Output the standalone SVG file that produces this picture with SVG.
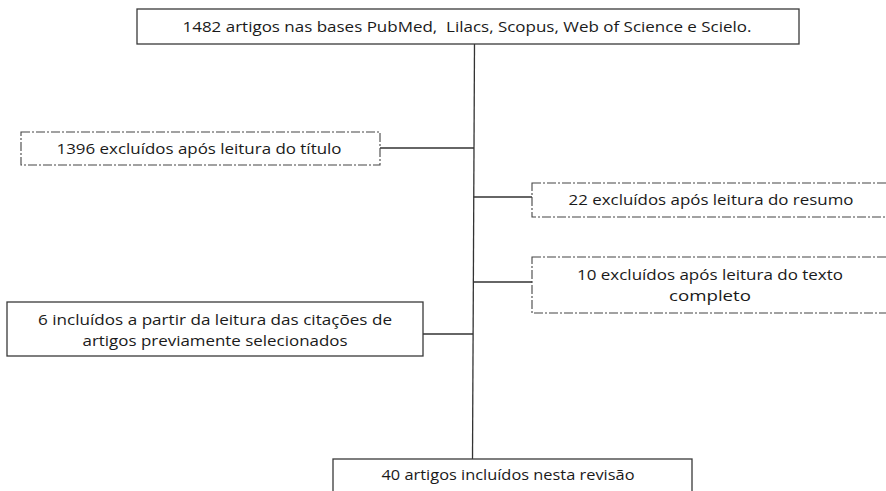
<svg xmlns="http://www.w3.org/2000/svg" width="886" height="491" viewBox="0 0 886 491">
<style>
.solid{fill:#fff;stroke:#3a3a3a;stroke-width:1.3}
.dash{fill:#fff;stroke:#444;stroke-width:1.1;stroke-dasharray:9 2 2 2}
.t{font-family:"Open Sans","Liberation Sans",sans-serif;font-size:15px;fill:#1a1a1a;text-anchor:middle}
.c{stroke:#333;stroke-width:1.3;fill:none}
</style>
<rect width="886" height="491" fill="#fff"/>
<g id="connectors">
<path class="c" d="M474.5 44 L472.5 460"/>
<path class="c" d="M380 148 H474"/>
<path class="c" d="M473.5 197 H532"/>
<path class="c" d="M473 282 H532"/>
<path class="c" d="M423 334 H473"/>
</g>
<g id="n_top">
<rect class="solid" x="137" y="9" width="662" height="35"/>
<text class="t" x="467" y="32" textLength="569" lengthAdjust="spacingAndGlyphs" xml:space="preserve">1482 artigos nas bases PubMed,  Lilacs, Scopus, Web of Science e Scielo.</text>
</g>
<g id="n_1396">
<rect class="dash" x="21" y="132" width="359" height="33"/>
<text class="t" x="199" y="154" textLength="285" lengthAdjust="spacingAndGlyphs">1396 excluídos após leitura do título</text>
</g>
<g id="n_22">
<rect class="dash" x="532" y="183" width="360" height="34"/>
<text class="t" x="711" y="205" textLength="285" lengthAdjust="spacingAndGlyphs">22 excluídos após leitura do resumo</text>
</g>
<g id="n_10">
<rect class="dash" x="532" y="257" width="360" height="56"/>
<text class="t" x="710" y="280" textLength="266" lengthAdjust="spacingAndGlyphs">10 excluídos após leitura do texto</text>
<text class="t" x="710" y="301" textLength="82" lengthAdjust="spacingAndGlyphs">completo</text>
</g>
<g id="n_6">
<rect class="solid" x="7" y="302" width="416" height="54"/>
<text class="t" x="215" y="325" textLength="354" lengthAdjust="spacingAndGlyphs">6 incluídos a partir da leitura das citações de</text>
<text class="t" x="215" y="346" textLength="265" lengthAdjust="spacingAndGlyphs">artigos previamente selecionados</text>
</g>
<g id="n_40">
<rect class="solid" x="333" y="459" width="359" height="40"/>
<text class="t" x="508" y="480" textLength="253" lengthAdjust="spacingAndGlyphs">40 artigos incluídos nesta revisão</text>
</g>
</svg>
